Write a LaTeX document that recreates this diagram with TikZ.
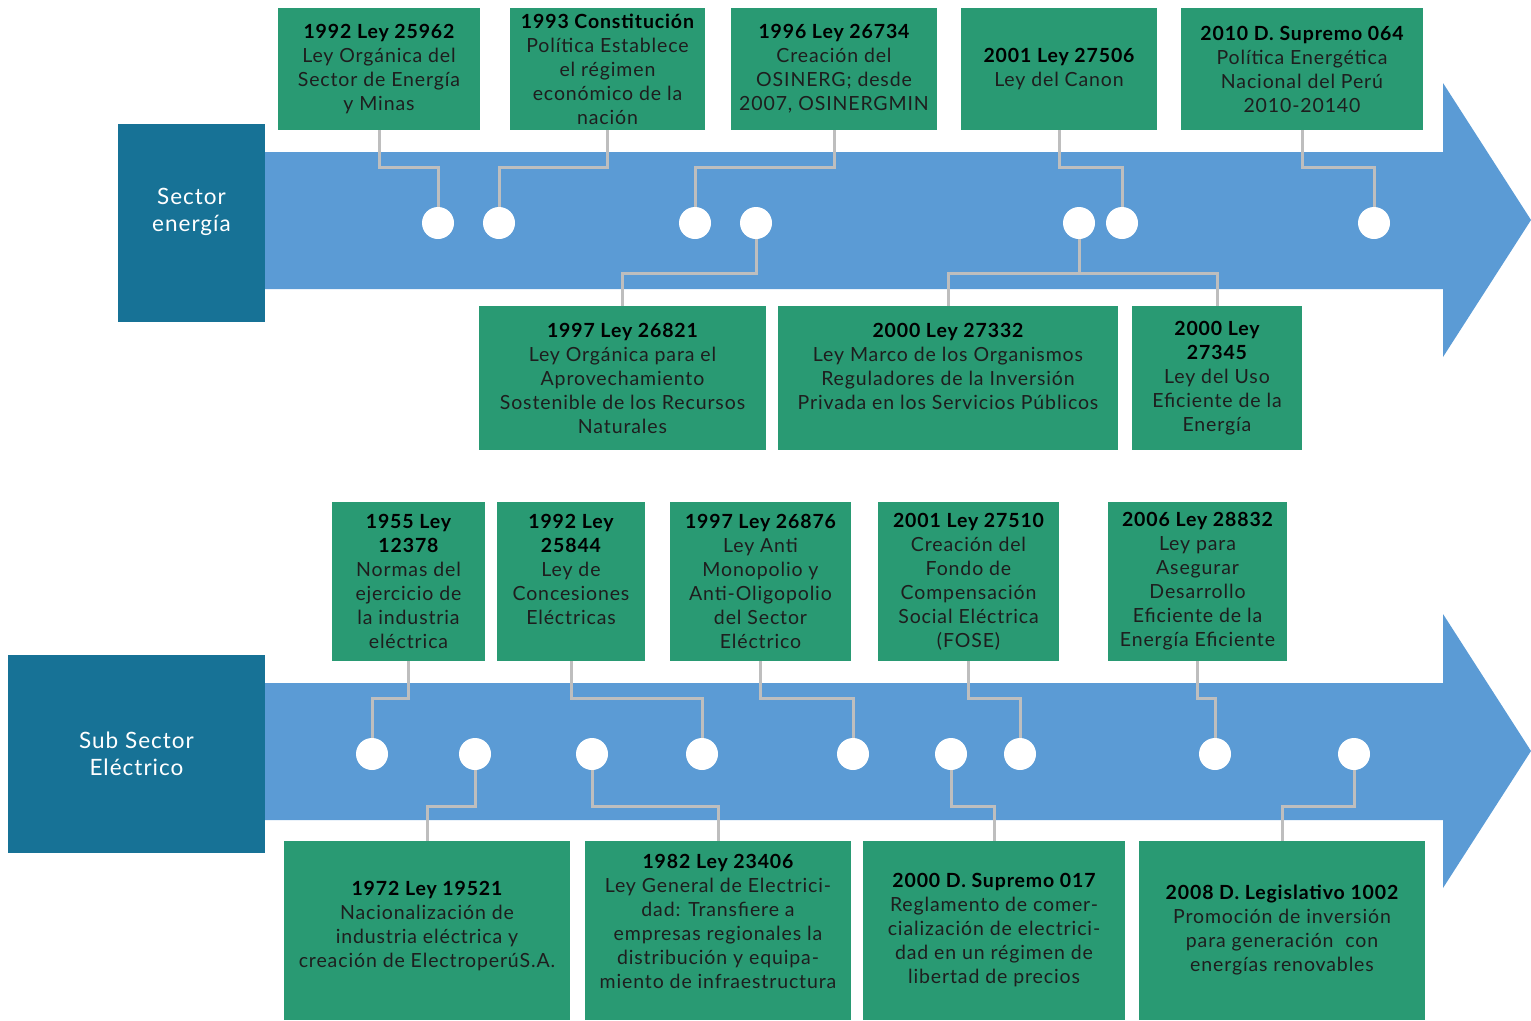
\documentclass[tikz,border=0pt]{standalone}
\usepackage{fontspec}
\setmainfont{Lato}[LetterSpace=4.5]
\definecolor{gboxc}{RGB}{41,154,115}
\definecolor{tboxc}{RGB}{23,114,150}
\definecolor{bandc}{RGB}{91,155,213}
\definecolor{connc}{RGB}{190,190,190}
\definecolor{bodyc}{RGB}{30,30,30}
\newcommand\mytitle[1]{{\bfseries\color{black}#1}}
\begin{document}
\begin{tikzpicture}[x=1pt,y=-1pt,
  gb/.style={fill=gboxc, inner sep=0pt, align=center, text=bodyc, font=\fontsize{19.5}{24}\selectfont},
  sz/.style 2 args={minimum width=#1pt, minimum height=#2pt},
  lab/.style={fill=tboxc, inner sep=0pt, align=center, text=white, font=\fontsize{22.5}{27}\selectfont},
  dot/.style={circle, fill=white, minimum size=32pt, inner sep=0pt},
  cn/.style={draw=connc, line width=3pt},
  arr/.style={fill=bandc}]
\useasboundingbox (0,0) rectangle (1531,1020);
% ---------------- bands
\fill[arr] (265,152) -- (1443,152) -- (1443,83) -- (1531,220) -- (1443,357) -- (1443,289) -- (265,289) -- cycle;
\fill[arr] (265,683) -- (1443,683) -- (1443,614) -- (1531,751) -- (1443,888) -- (1443,820) -- (265,820) -- cycle;
% ---------------- labels
\node[lab, sz={147}{198}] (sec) at (191.5,223) {Sector\\energía\\~};
\node[lab, sz={257}{198}] (sub) at (136.5,754) {Sub Sector\\Eléctrico};
% ---------------- elbow levels
\coordinate (eTa) at (0,167);
\coordinate (eTb) at (0,273);
\coordinate (eLa) at (0,698);
\coordinate (eLb) at (0,806);
% ---------------- top section boxes
\node[gb, sz={202}{122}] (A1) at (379,69) {\mytitle{1992 Ley 25962}\\Ley Orgánica del\\Sector de Energía\\y Minas};
\node[gb, sz={195}{122}] (A2) at (607.5,69) {\mytitle{1993 Constitución}\\Política Establece\\el régimen\\económico de la\\nación};
\node[gb, sz={206}{122}] (A3) at (834,69) {\mytitle{1996 Ley 26734}\\Creación del\\OSINERG; desde\\2007, OSINERGMIN};
\node[gb, sz={196}{122}] (A4) at (1059,69) {\mytitle{2001 Ley 27506}\\Ley del Canon};
\node[gb, sz={242}{122}] (A5) at (1302,69) {\mytitle{2010 D. Supremo 064}\\Política Energética\\Nacional del Perú\\2010-20140};
\node[gb, sz={287}{144}] (B1) at (622.5,378) {\mytitle{1997 Ley 26821}\\Ley Orgánica para el\\Aprovechamiento\\Sostenible de los Recursos\\Naturales};
\node[gb, sz={340}{144}] (B2) at (948,378) {\mytitle{2000 Ley 27332}\\Ley Marco de los Organismos\\Reguladores de la Inversión\\Privada en los Servicios Públicos\\~};
\node[gb, sz={170}{144}] (B3) at (1217,378) {\mytitle{2000 Ley}\\\mytitle{27345}\\Ley del Uso\\Eficiente de la\\Energía};
% ---------------- lower section boxes
\node[gb, sz={153}{159}] (C1) at (408.5,581.5) {\mytitle{1955 Ley}\\\mytitle{12378}\\Normas del\\ejercicio de\\la industria\\eléctrica};
\node[gb, sz={148}{159}] (C2) at (571,581.5) {\mytitle{1992 Ley}\\\mytitle{25844}\\Ley de\\Concesiones\\Eléctricas\\~};
\node[gb, sz={181}{159}] (C3) at (760.5,581.5) {\mytitle{1997 Ley 26876}\\Ley Anti\\Monopolio y\\Anti-Oligopolio\\del Sector\\Eléctrico};
\node[gb, sz={181}{159}] (C4) at (968.5,581.5) {\mytitle{2001 Ley 27510}\\Creación del\\Fondo de\\Compensación\\Social Eléctrica\\(FOSE)};
\node[gb, sz={179}{159}] (C5) at (1197.5,581.5) {\mytitle{2006 Ley 28832}\\Ley para\\Asegurar\\Desarrollo\\Eficiente de la\\Energía Eficiente};
\node[gb, sz={286}{179}] (D1) at (427,930.5) {\mytitle{1972 Ley 19521}\\Nacionalización de\\industria eléctrica y\\creación de ElectroperúS.A.\\[-12pt]~};
\node[gb, sz={266}{179}] (D2) at (718,930.5) {\mytitle{1982 Ley 23406}\\Ley General de Electrici-\\dad: Transfiere a\\empresas regionales la\\distribución y equipa-\\miento de infraestructura\\[-6pt]~};
\node[gb, sz={262}{179}] (D3) at (994,930.5) {\mytitle{2000 D. Supremo 017}\\Reglamento de comer-\\cialización de electrici-\\dad en un régimen de\\libertad de precios};
\node[gb, sz={286}{179}] (D4) at (1282,930.5) {\mytitle{2008 D. Legislativo 1002}\\Promoción de inversión\\para generación\ \ con\\energías renovables};
% ---------------- circle positions
\foreach \n/\xx in {t1/438,t2/499,t3/695,t4/756,t5/1079,t6/1122,t7/1374}
  \coordinate (\n) at (\xx,223);
\foreach \n/\xx in {s1/372,s2/475,s3/592,s4/702,s5/853,s6/951,s7/1020,s8/1215,s9/1354}
  \coordinate (\n) at (\xx,754);
% ---------------- connectors
\draw[cn] (A1.south) -- (A1.south |- eTa) -| (t1);
\draw[cn] (A2.south) -- (A2.south |- eTa) -| (t2);
\draw[cn] (A3.south) -- (A3.south |- eTa) -| (t3);
\draw[cn] (A4.south) -- (A4.south |- eTa) -| (t6);
\draw[cn] (A5.south) -- (A5.south |- eTa) -| (t7);
\draw[cn] (t4) -- (t4 |- eTb) -| (B1.north);
\draw[cn] (t5) -- (t5 |- eTb) -| (B2.north);
\draw[cn] (t5) -- (t5 |- eTb) -| (B3.north);
\draw[cn] (C1.south) -- (C1.south |- eLa) -| (s1);
\draw[cn] (C2.south) -- (C2.south |- eLa) -| (s4);
\draw[cn] (C3.south) -- (C3.south |- eLa) -| (s5);
\draw[cn] (C4.south) -- (C4.south |- eLa) -| (s7);
\draw[cn] (C5.south) -- (C5.south |- eLa) -| (s8);
\draw[cn] (s2) -- (s2 |- eLb) -| (D1.north);
\draw[cn] (s3) -- (s3 |- eLb) -| (D2.north);
\draw[cn] (s6) -- (s6 |- eLb) -| (D3.north);
\draw[cn] (s9) -- (s9 |- eLb) -| (D4.north);
% ---------------- circles
\foreach \n in {t1,t2,t3,t4,t5,t6,t7,s1,s2,s3,s4,s5,s6,s7,s8,s9}
  \node[dot] (d\n) at (\n) {};
\end{tikzpicture}
\end{document}
